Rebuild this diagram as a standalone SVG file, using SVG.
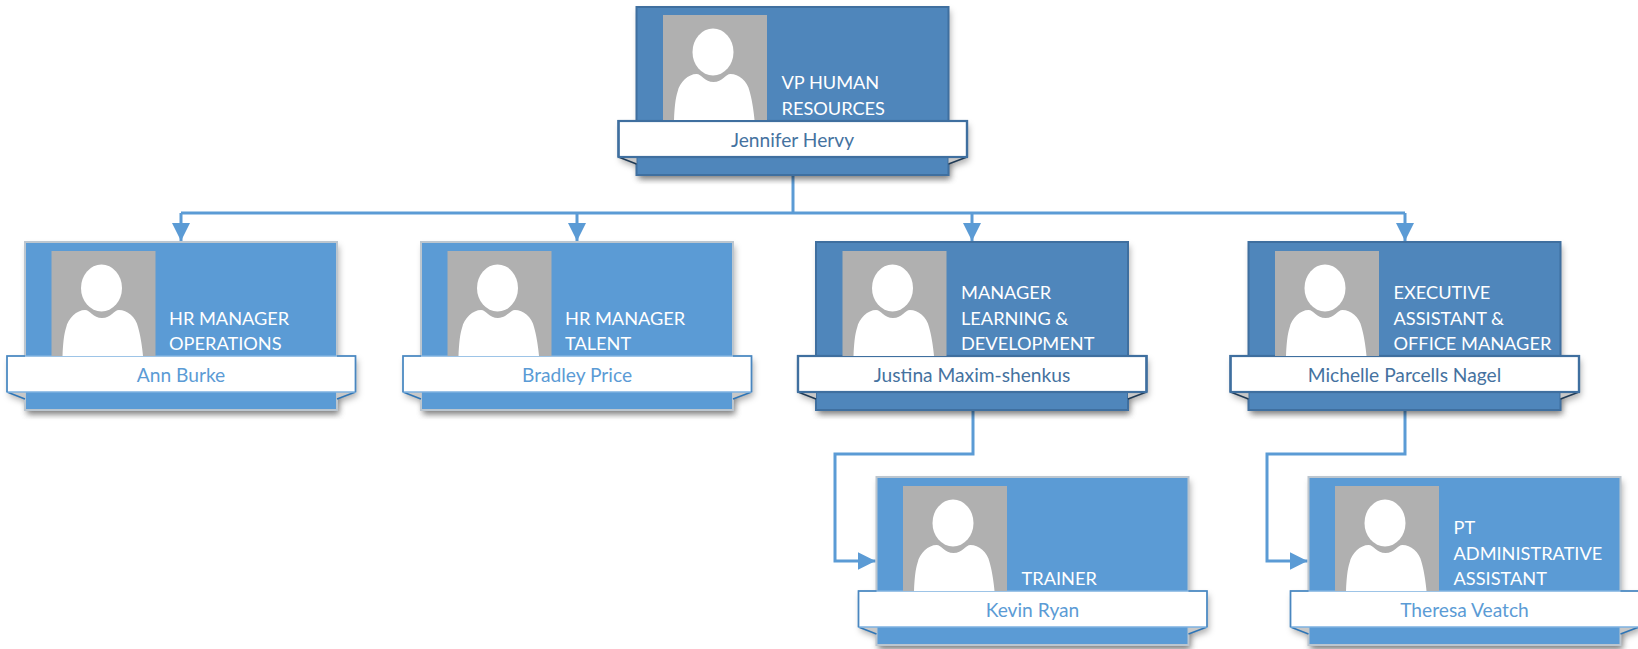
<svg xmlns="http://www.w3.org/2000/svg" width="1638" height="649" viewBox="0 0 1638 649">
<style>
text{font-family:Lato,"Liberation Sans",sans-serif}
.t{font-size:18.200px;fill:#fff}
.n{font-size:19.200px;text-anchor:middle}
.ln{fill:none;stroke:#5b9bd5;stroke-width:3}
.d{--card:#4f86bb;--edge:#3f6f9f;--bedge:#3f6f9f;--rim:#3f6f9f;--fedge:#1f3a55;--name:#45729f;--bw:2.200}
.l{--card:#5b9bd5;--edge:#bcc6cf;--bedge:#7db1e0;--rim:#4a86bf;--fedge:#2e75b6;--name:#5b9bd5;--bw:1.500}
.c{fill:var(--card);stroke:var(--edge);stroke-width:2}
.b{fill:#fff;stroke:var(--bedge);stroke-width:var(--bw)}
.f{fill:#c8c8c8}
.fe{fill:none;stroke:var(--fedge);stroke-width:1.500}
.r{fill:none;stroke:var(--rim);stroke-width:var(--bw)}
.n{fill:var(--name)}
</style>
<defs>
<filter id="s" x="-10%" y="-10%" width="120%" height="125%"><feDropShadow dx="2" dy="4" stdDeviation="3" flood-color="#000" flood-opacity=".3"/></filter>
<g id="card">
<path d="M-18 114H330.500V150L312 157V168H0V157L-18 150Z" fill="#fff" filter="url(#s)"/>
<rect x="0" y="0" width="312" height="168" fill="#fff" filter="url(#s)"/>
<rect class="c" x="0" y="0" width="312" height="168"/>
<path class="f" d="M-18 150L0 157V150Z"/>
<path class="f" d="M330.500 150L312 157V150Z"/>
<path class="fe" d="M-18 150L0 157M330.500 150L312 157"/>
<rect class="b" x="-18" y="114" width="348.500" height="36"/>
<path class="r" d="M0 114H-18V150M312 114H330.500V150"/>
</g>
<g id="photo">
<rect x="26.500" y="9" width="104" height="105" fill="#b0b0b0"/>
<ellipse cx="76.500" cy="46" rx="20.500" ry="23.500" fill="#fff"/>
<path d="M37.500 114C38 102 39 92 41 86C43 76 52 68 60 68C65 68 68 76 77 76C86 76 89 68 94 68C102 68 111 75 113 85C115 92 117 102 118 114Z" fill="#fff"/>
</g>
<marker id="a" viewBox="0 0 18 18" refX="18" refY="9" markerWidth="18" markerHeight="18" markerUnits="userSpaceOnUse" orient="auto"><path d="M0 0L18 9L0 18Z" fill="#5b9bd5"/></marker>
</defs>
<g id="connectors">
<path class="ln" d="M793 175V213"/>
<path class="ln" d="M181 213H1405"/>
<path class="ln" d="M181 213V241" marker-end="url(#a)"/>
<path class="ln" d="M577 213V241" marker-end="url(#a)"/>
<path class="ln" d="M972 213V241" marker-end="url(#a)"/>
<path class="ln" d="M1405 213V241" marker-end="url(#a)"/>
<path class="ln" d="M973 410V454H835V561H875.500" marker-end="url(#a)"/>
<path class="ln" d="M1405 410V454H1267V561H1307.500" marker-end="url(#a)"/>
</g>
<g id="vp" class="d" transform="translate(636.500 7)"><use href="#card"/><use href="#photo" y="-1"/><text class="t" x="145" y="82">VP HUMAN</text><text class="t" x="145" y="108">RESOURCES</text><text class="n" x="156" y="139.500">Jennifer Hervy</text></g>
<g id="ann" class="l" transform="translate(25 242)"><use href="#card"/><use href="#photo"/><text class="t" x="144" y="83">HR MANAGER</text><text class="t" x="144" y="108">OPERATIONS</text><text class="n" x="156" y="139.500">Ann Burke</text></g>
<g id="bradley" class="l" transform="translate(421 242)"><use href="#card"/><use href="#photo"/><text class="t" x="144" y="83">HR MANAGER</text><text class="t" x="144" y="108">TALENT</text><text class="n" x="156" y="139.500">Bradley Price</text></g>
<g id="justina" class="d" transform="translate(816 242)"><use href="#card"/><use href="#photo"/><text class="t" x="145" y="57">MANAGER</text><text class="t" x="145" y="83">LEARNING &amp;</text><text class="t" x="145" y="108">DEVELOPMENT</text><text class="n" x="156" y="139.500">Justina Maxim-shenkus</text></g>
<g id="michelle" class="d" transform="translate(1248.500 242)"><use href="#card"/><use href="#photo"/><text class="t" x="145" y="57">EXECUTIVE</text><text class="t" x="145" y="83">ASSISTANT &amp;</text><text class="t" x="145" y="108">OFFICE MANAGER</text><text class="n" x="156" y="139.500">Michelle Parcells Nagel</text></g>
<g id="kevin" class="l" transform="translate(876.500 477)"><use href="#card"/><use href="#photo"/><text class="t" x="145" y="108">TRAINER</text><text class="n" x="156" y="139.500">Kevin Ryan</text></g>
<g id="theresa" class="l" transform="translate(1308.500 477)"><use href="#card"/><use href="#photo"/><text class="t" x="145" y="57">PT</text><text class="t" x="145" y="83">ADMINISTRATIVE</text><text class="t" x="145" y="108">ASSISTANT</text><text class="n" x="156" y="139.500">Theresa Veatch</text></g>
</svg>
